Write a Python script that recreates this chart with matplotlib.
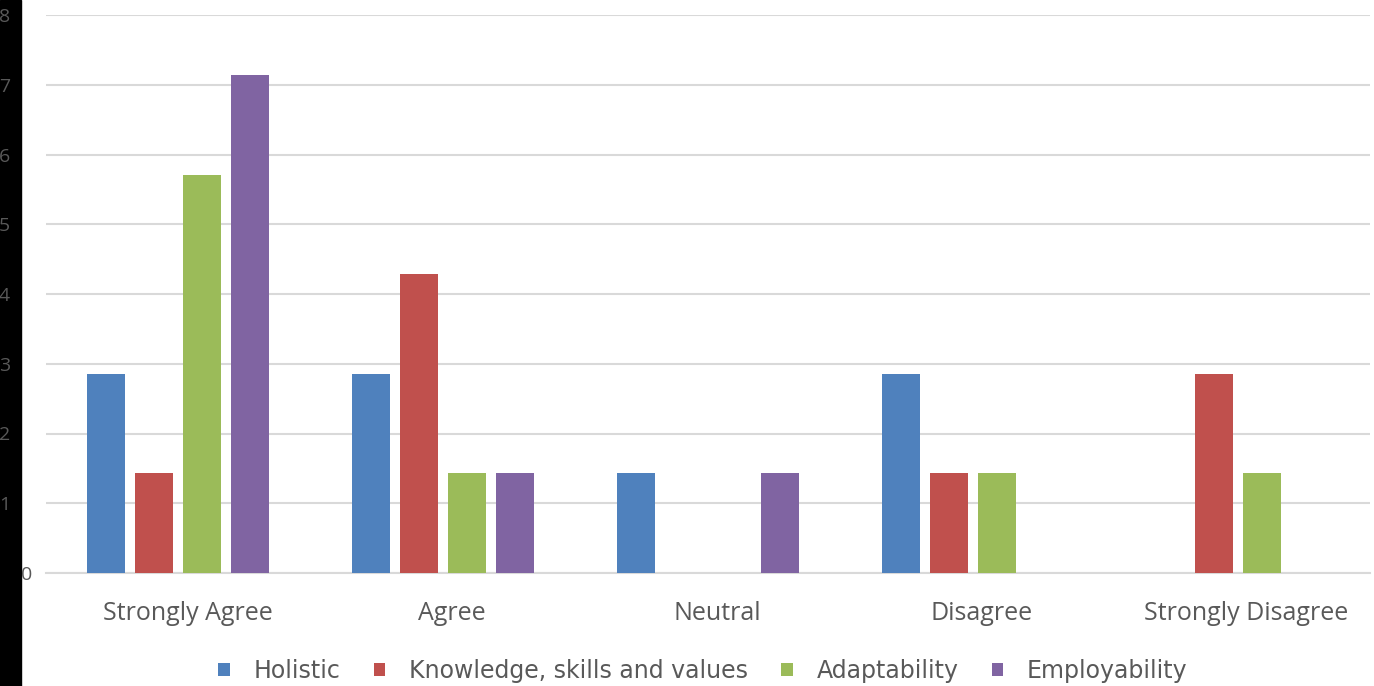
import matplotlib
matplotlib.use("Agg")
import matplotlib.pyplot as plt
import matplotlib.transforms as mtransforms
import numpy as np

# ---------------------------------------------------------------------------
# Data
# ---------------------------------------------------------------------------
categories = ["Strongly Agree", "Agree", "Neutral", "Disagree", "Strongly Disagree"]
series_names = ["Holistic", "Knowledge, skills and values", "Adaptability", "Employability"]
holistic = [2.86, 2.86, 1.43, 2.86, 0.0]
knowledge = [1.43, 4.29, 0.0, 1.43, 2.86]
adaptability = [5.71, 1.43, 0.0, 1.43, 1.43]
employability = [7.14, 1.43, 1.43, 0.0, 0.0]
y_ticks = [0, 1, 2, 3, 4, 5, 6, 7, 8]

colors = ["#4F81BD", "#C0504D", "#9BBB59", "#8064A2"]
text_color = "#595959"
grid_color = "#D9D9D9"

W, H = 1374, 686
fig = plt.figure(figsize=(W / 100, H / 100), dpi=100)
ax = fig.add_axes([46 / W, (H - 573) / H, (1370 - 46) / W, (573 - 15) / H])

x = np.arange(len(categories))
bar_w = 38 / 264.8
step = 48 / 264.8
all_series = [holistic, knowledge, adaptability, employability]
for i, (vals, name, col) in enumerate(zip(all_series, series_names, colors)):
    offs = (i - 1.5) * step
    ax.bar(x + offs, vals, width=bar_w, color=col, label=name, zorder=3)

ax.set_xlim(-0.5, len(categories) - 0.5)
ax.set_ylim(0, 8)
ax.set_yticks(y_ticks)
ax.set_yticklabels([str(t) for t in y_ticks], fontsize=14, fontfamily="Open Sans")
ax.set_xticks(x)
ax.set_xticklabels(categories, fontsize=18, fontfamily="Open Sans")

ax.grid(axis="y", color=grid_color, linewidth=1.5, zorder=0)
for s in ["top", "right", "left"]:
    ax.spines[s].set_visible(False)
ax.spines["bottom"].set_color(grid_color)
ax.spines["bottom"].set_linewidth(1.5)
ax.tick_params(axis="both", length=0)
ax.tick_params(axis="x", labelcolor=text_color, pad=20)
ax.tick_params(axis="y", labelcolor=text_color, pad=26)

for lbl in ax.get_xticklabels():
    lbl.set_transform(lbl.get_transform() + mtransforms.ScaledTranslation(9 / 100, 0, fig.dpi_scale_trans))
# the "0" label sits further right, on the white part
ax.yaxis.get_major_ticks()[0].set_pad(10)

# black strip down the left edge (scan artefact in the original)
fig.patches.append(plt.Rectangle((0, 0), 21 / W, 1, transform=fig.transFigure,
                                 color="black", zorder=-1))

leg = fig.legend(loc="center", bbox_to_anchor=(703 / W, 1 - 671 / H), ncol=4,
                 frameon=False, handlelength=0.5, handleheight=0.5,
                 handletextpad=1.0, columnspacing=1.4,
                 prop={"family": "DejaVu Sans", "size": 17})
for t in leg.get_texts():
    t.set_color(text_color)

fig.savefig("out.png", dpi=100)
